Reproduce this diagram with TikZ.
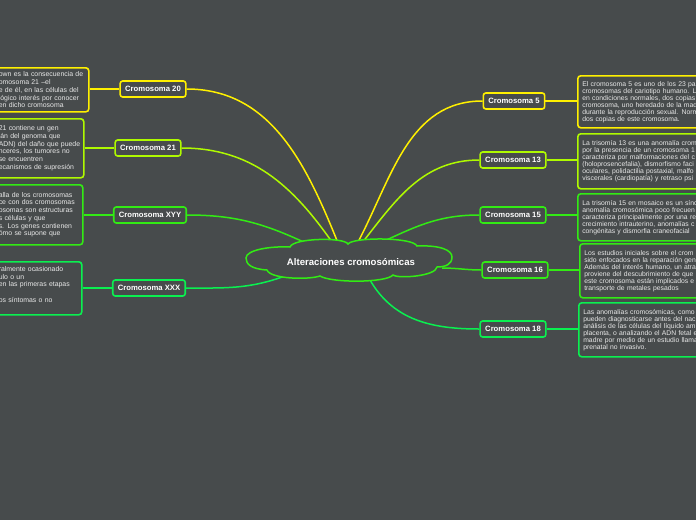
\documentclass[tikz,border=0pt]{standalone}
\usepackage{fontspec}
\setmainfont{Liberation Sans}
\definecolor{bgdark}{RGB}{71,75,76}
\definecolor{cyellow}{RGB}{255,240,0}
\definecolor{clime}{RGB}{175,250,0}
\definecolor{cgreen}{RGB}{50,235,20}
\definecolor{cspring}{RGB}{10,240,80}
\definecolor{txtgray}{RGB}{232,232,232}
\pgfdeclarelayer{bg}
\pgfdeclarelayer{links}
\pgfsetlayers{bg,links,main}
\begin{document}
\begin{tikzpicture}[x=1pt,y=-1pt,
    topic/.style={draw=#1, line width=1.6pt, rounded corners=2.5pt, fill=bgdark,
      text=white, font=\fontsize{7.7}{9}\selectfont\bfseries,
      minimum height=16pt, inner xsep=5pt, inner ysep=0pt},
    leftnote/.style={draw=#1, line width=1.6pt, rounded corners=3pt, fill=bgdark,
      text=txtgray, font=\fontsize{6.9}{7.75}\selectfont, align=left,
      inner xsep=3pt, inner ysep=1pt, anchor=north west},
    rightnote/.style={draw=#1, line width=1.6pt, rounded corners=3pt, fill=bgdark,
      text=txtgray, font=\fontsize{6.8}{7}\selectfont, align=left,
      text width=150pt, inner xsep=4.5pt, inner ysep=1pt, anchor=north west},
    link/.style={draw=#1, line width=1.5pt}]
    \useasboundingbox (0,0) rectangle (696,520);
    \begin{pgfonlayer}{bg}
      \fill[bgdark] (0,0) rectangle (696,520);
    \end{pgfonlayer}
    \clip (0,0) rectangle (696,520);

    % central topic (cloud)
    \draw[cgreen, line width=1.5pt, fill=bgdark]
      (246,258) .. controls (246,250) and (270,246) .. (290,247)
      .. controls (293,238) and (344,237) .. (348,244)
      .. controls (353,237) and (413,237) .. (417,246)
      .. controls (440,245) and (452,250) .. (452,257)
      .. controls (452,264) and (446,267) .. (437,267)
      .. controls (436,276) and (399,279) .. (393,275)
      .. controls (386,283) and (331,283) .. (320,276)
      .. controls (308,280) and (270,279) .. (267,270)
      .. controls (251,269) and (246,264) .. (246,258) -- cycle;
    \node[text=white, font=\fontsize{9.6}{11}\selectfont\bfseries,
      minimum width=206pt, minimum height=41pt, inner sep=0pt] (main) at (351,262)
      {Alteraciones cromosómicas};

    % left branches
    \node[topic=cyellow] (c20) at (153,89) {Cromosoma 20};
    \node[topic=clime] (c21) at (148,148) {Cromosoma 21};
    \node[topic=cgreen] (cxyy) at (150,215) {Cromosoma XYY};
    \node[topic=cspring] (cxxx) at (149,288) {Cromosoma XXX};

    % right branches
    \node[topic=cyellow] (c5) at (514,101) {Cromosoma 5};
    \node[topic=clime] (c13) at (513,160) {Cromosoma 13};
    \node[topic=cgreen] (c15) at (513,215) {Cromosoma 15};
    \node[topic=cgreen] (c16) at (515,270) {Cromosoma 16};
    \node[topic=cspring] (c18) at (513,329) {Cromosoma 18};

    % notes, left side
    \node[leftnote=cyellow, text width=87pt, minimum height=44pt] (n20) at (-5,67)
      {own es la consecuencia de\\omosoma 21 –el\\e de él, en las células del\\ lógico interés por conocer\\ en dicho cromosoma};
    \node[leftnote=clime, text width=82pt, minimum height=59pt] (n21) at (-5,118)
      {21 contiene un gen\\lán del genoma que\\ADN) del daño que puede\\nceres, los tumores no\\ se encuentren\\ecanismos de supresión};
    \node[leftnote=cgreen, text width=81pt, minimum height=60pt] (nxyy) at (-5,184)
      {alla de los cromosomas\\ce con dos cromosomas\\osomas son estructuras\\s células y que\\s. Los genes contienen\\ómo se supone que};
    \node[leftnote=cspring, text width=80pt, minimum height=53pt] (nxxx) at (-5,261)
      {ralmente ocasionado\\ulo o un\\ en las primeras etapas\\\mbox{}\\os síntomas o no\\\mbox{}};

    % notes, right side
    \node[rightnote=cyellow, minimum height=52pt] (n5) at (577,75)
      {El cromosoma 5 es uno de los 23 pa\\cromosomas del cariotipo humano. L\\en condiciones normales, dos copias\\cromosoma, uno heredado de la mad\\durante la reproducción sexual. Norm\\dos copias de este cromosoma.};
    \node[rightnote=clime, minimum height=55pt] (n13) at (577,133)
      {La trisomía 13 es una anomalía crom\\por la presencia de un cromosoma 1\\caracteriza por malformaciones del c\\(holoprosencefalia), dismorfismo faci\\oculares, polidactilia postaxial, malfo\\viscerales (cardiopatía) y retraso psi};
    \node[rightnote=cgreen, minimum height=47pt] (n15) at (577,193)
      {La trisomía 15 en mosaico es un sínd\\anomalía cromosómica poco frecuen\\caracteriza principalmente por una re\\crecimiento intrauterino, anomalías c\\congénitas y dismorfia craneofacial};
    \node[rightnote=cgreen, minimum height=54pt] (n16) at (579,243)
      {Los estudios iniciales sobre el crom\\sido enfocados en la reparación gen\\Además del interés humano, un atra\\proviene del descubrimiento de que\\este cromosoma están implicados e\\transporte de metales pesados};
    \node[rightnote=cspring, minimum height=54pt] (n18) at (578,302)
      {Las anomalías cromosómicas, como\\pueden diagnosticarse antes del nac\\análisis de las células del líquido am\\placenta, o analizando el ADN fetal e\\madre por medio de un estudio llama\\prenatal no invasivo.};

    % connectors to the central topic
    \begin{pgfonlayer}{links}
    \draw[link=cyellow] (c20.east) to[out=0, in=112] ([xshift=-13pt,yshift=19pt]main.center);
    \draw[link=clime] (c21.east) to[out=0, in=125] ([xshift=-19pt,yshift=20pt]main.center);
    \draw[link=cgreen] (cxyy.east) to[out=0, in=155] ([xshift=-43pt,yshift=18pt]main.center);
    \draw[link=cspring] (cxxx.east) to[out=0, in=200] ([xshift=-66pt,yshift=-14pt]main.center);
    \draw[link=cyellow] (c5.west) to[out=180, in=62] ([xshift=6pt,yshift=18pt]main.center);
    \draw[link=clime] (c13.west) to[out=180, in=52] ([xshift=11pt,yshift=19pt]main.center);
    \draw[link=cgreen] (c15.west) to[out=180, in=25] ([xshift=29pt,yshift=19pt]main.center);
    \draw[link=cgreen] (c16.west) to[out=180, in=0] ([xshift=91pt,yshift=-6pt]main.center);
    \draw[link=cspring] (c18.west) to[out=180, in=-60] ([xshift=19pt,yshift=-18pt]main.center);

    % connectors to the notes
    \draw[link=cyellow] (n20.east |- c20.west) -- (c20.west);
    \draw[link=clime] (n21.east |- c21.west) -- (c21.west);
    \draw[link=cgreen] (nxyy.east |- cxyy.west) -- (cxyy.west);
    \draw[link=cspring] (nxxx.east |- cxxx.west) -- (cxxx.west);
    \draw[link=cyellow] (c5.east) -- (n5.west |- c5.east);
    \draw[link=clime] (c13.east) -- (n13.west |- c13.east);
    \draw[link=cgreen] (c15.east) -- (n15.west |- c15.east);
    \draw[link=cgreen] (c16.east) -- (n16.west |- c16.east);
    \draw[link=cspring] (c18.east) -- (n18.west |- c18.east);
    \end{pgfonlayer}
\end{tikzpicture}
\end{document}
